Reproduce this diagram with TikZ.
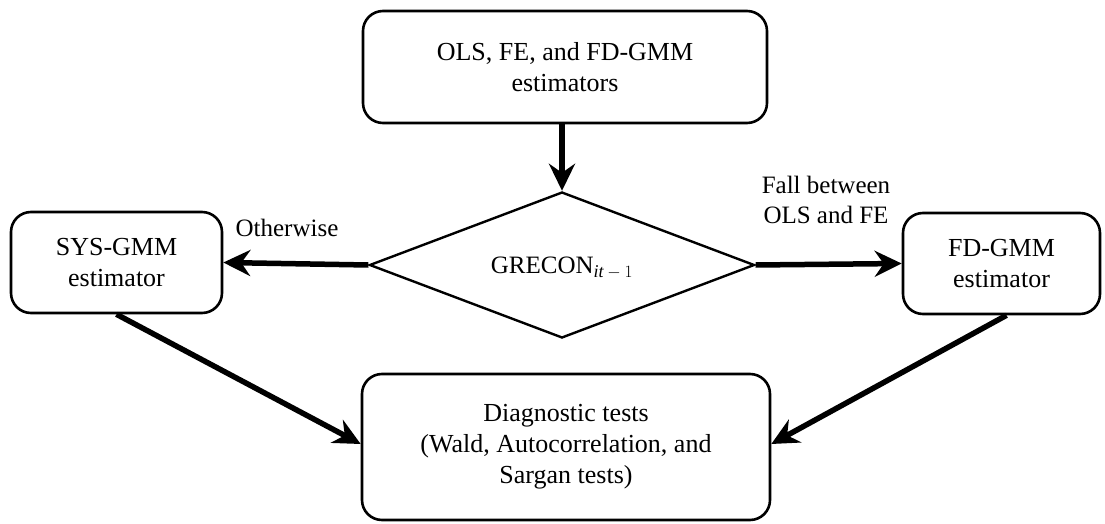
\documentclass[tikz,border=0pt]{standalone}
\usepackage{fontspec}
\setmainfont{Liberation Serif}
\usetikzlibrary{shapes.geometric,arrows.meta}
\begin{document}
\begin{tikzpicture}[x=1pt,y=-1pt,
  box/.style={draw,line width=2.6pt,rounded corners=20pt,align=center,inner sep=0pt,font=\fontsize{26}{31}\selectfont},
  flow/.style={line width=5.5pt,-{Stealth[length=27pt,width=26pt,inset=9pt]}},
  lbl/.style={align=center,font=\fontsize{25}{30}\selectfont}]
\useasboundingbox (0,0) rectangle (1105,524);
\node[box,minimum width=404pt,minimum height=112pt] (top) at (565,67) {OLS, FE, and FD-GMM\\estimators};
\node[draw,diamond,line width=2.4pt,minimum width=385pt,minimum height=146pt,inner sep=0pt] (dia) at (562,265) {};
\node[font=\fontsize{25}{30}\selectfont] (diatext) at (562,268) {GRECON$_{\mbox{\fontsize{18}{20}\selectfont$\mathit{it}-1$}}$};
\node[box,minimum width=211pt,minimum height=101pt] (sys) at (116.5,262.5) {SYS-GMM\\estimator};
\node[box,minimum width=197pt,minimum height=101pt] (fd) at (1001.5,263.5) {FD-GMM\\estimator};
\node[box,minimum width=408pt,minimum height=146pt] (diag) at (566,447) {Diagnostic tests\\(Wald, Autocorrelation, and\\Sargan tests)};
\node[lbl] (oth) at (287,228) {Otherwise};
\node[lbl] (fall) at (826,200) {Fall between\\OLS and FE};
\draw[flow] (dia.north |- top.south) -- (dia.north);
\draw[flow] (dia.west) -- (sys.east);
\draw[flow] (dia.east) -- (fd.west);
\draw[flow] (sys.south) -- ([yshift=3pt]diag.west);
\draw[flow] ([xshift=5pt]fd.south) -- ([yshift=3pt]diag.east);
\end{tikzpicture}
\end{document}
